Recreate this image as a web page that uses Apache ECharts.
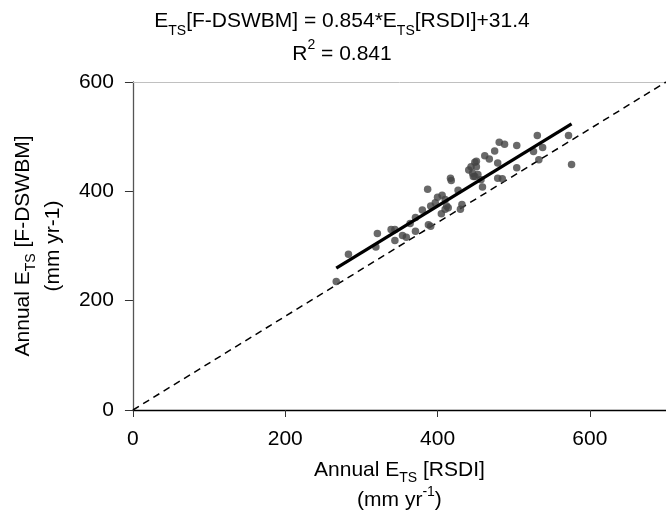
<!DOCTYPE html>
<html>
<head>
<meta charset="utf-8">
<script src="https://cdn.jsdelivr.net/npm/echarts@6/dist/echarts.min.js"></script>
<style>
html,body{margin:0;padding:0;background:#fff;}
#chart{width:666px;height:520px;}
</style>
</head>
<body>
<div id="chart"></div>
<script>
// RSDI annual ET (x) and F-DSWBM annual ET (y), mm/yr
var rsdiX = [267,283,321,319,339,344,344,354,359,364,371,371,380,388,391,387,391,397,400,406,405,410,412,410,414,417,418,427,432,430,441,444,449,451,451,449,453,457,446,459,462,468,475,479,481,488,479,504,504,526,531,533,538,572,576,447,485];
var dswbmY = [235,285,323,298,330,330,310,319,316,341,327,352,366,339,336,404,373,379,389,393,359,385,373,367,370,424,420,402,376,367,439,445,453,455,445,427,431,421,433,408,465,459,474,452,490,486,424,484,443,473,502,458,480,502,449,427,423];
var fitSlope = 0.854;
var fitIntercept = 31.4;
var oneToOne = [[0, 0], [700, 600]];
var xTicks = [0, 200, 400, 600];
var yTicks = [0, 200, 400, 600];

var pts = rsdiX.map(function (x, i) { return [x, dswbmY[i]]; });
var xmin = Math.min.apply(null, rsdiX), xmax = Math.max.apply(null, rsdiX);
var fitLine = [[xmin, fitSlope * xmin + fitIntercept], [xmax, fitSlope * xmax + fitIntercept]];

var FONT = '"Liberation Sans", Arial, sans-serif';
var FS = 21;
var baseRich = {
  sub: { fontSize: 14, fontFamily: FONT, color: '#000', verticalAlign: 'bottom', padding: [7, 0, 0, 0] },
  sup: { fontSize: 14, fontFamily: FONT, color: '#000', verticalAlign: 'top', padding: [0, 0, 9, 0] }
};

var chart = echarts.init(document.getElementById('chart'), null, { renderer: 'canvas' });
chart.setOption({
  animation: false,
  backgroundColor: '#fff',
  title: {
    text: 'E{sub|TS}[F-DSWBM] = 0.854*E{sub|TS}[RSDI]+31.4\nR{sup|2} = 0.841',
    left: 342, top: 5, padding: 0, textAlign: 'center',
    textStyle: { fontFamily: FONT, fontSize: FS, fontWeight: 'normal', color: '#000', lineHeight: 33, rich: baseRich }
  },
  grid: { left: 131, top: 82, width: 544, height: 334 },
  xAxis: [{
    type: 'value', min: 0, max: 700, interval: 200,
    axisLine: { show: true, lineStyle: { color: '#000', width: 1.3 } },
    axisTick: { show: true, length: 7, lineStyle: { color: '#333' } },
    axisLabel: { margin: 19, fontFamily: FONT, fontSize: FS, color: '#000', showMaxLabel: false,
      formatter: function (v) { return xTicks.indexOf(v) >= 0 ? String(v) : ''; } },
    splitLine: { show: false },
    name: 'Annual E{sub|TS} [RSDI]\n(mm yr{sup|-1})',
    nameLocation: 'middle', nameGap: 45,
    nameTextStyle: { fontFamily: FONT, fontSize: FS, color: '#000', lineHeight: 30, rich: baseRich }
  }, {
    type: 'value', min: 0, max: 700, position: 'top',
    axisLine: { show: true, lineStyle: { color: '#c0c0c0', width: 1 } },
    axisTick: { show: false }, axisLabel: { show: false }, splitLine: { show: false }
  }],
  yAxis: {
    type: 'value', min: 0, max: 600, interval: 200,
    axisLine: { show: true, lineStyle: { color: '#555', width: 1.3 } },
    axisTick: { show: true, length: 8, lineStyle: { color: '#333' } },
    axisLabel: { margin: 19, fontFamily: FONT, fontSize: FS, color: '#000',
      formatter: function (v) { return yTicks.indexOf(v) >= 0 ? String(v) : ''; } },
    splitLine: { show: false },
    name: 'Annual E{sub|TS} [F-DSWBM]\n(mm yr-1)',
    nameLocation: 'middle', nameGap: 63, nameRotate: 90,
    nameTextStyle: { fontFamily: FONT, fontSize: FS, color: '#000', lineHeight: 30, rich: baseRich }
  },
  series: [{
    type: 'line', data: oneToOne, symbol: 'none', silent: true,
    lineStyle: { color: '#000', width: 1.5, type: [7, 5] }, z: 2
  }, {
    type: 'scatter', data: pts, symbol: 'circle', symbolSize: 7.5,
    itemStyle: { color: '#444' }, z: 3
  }, {
    type: 'line', data: fitLine, symbol: 'none', silent: true,
    lineStyle: { color: '#000', width: 3.3 }, z: 4
  }]
});
</script>
</body>
</html>
